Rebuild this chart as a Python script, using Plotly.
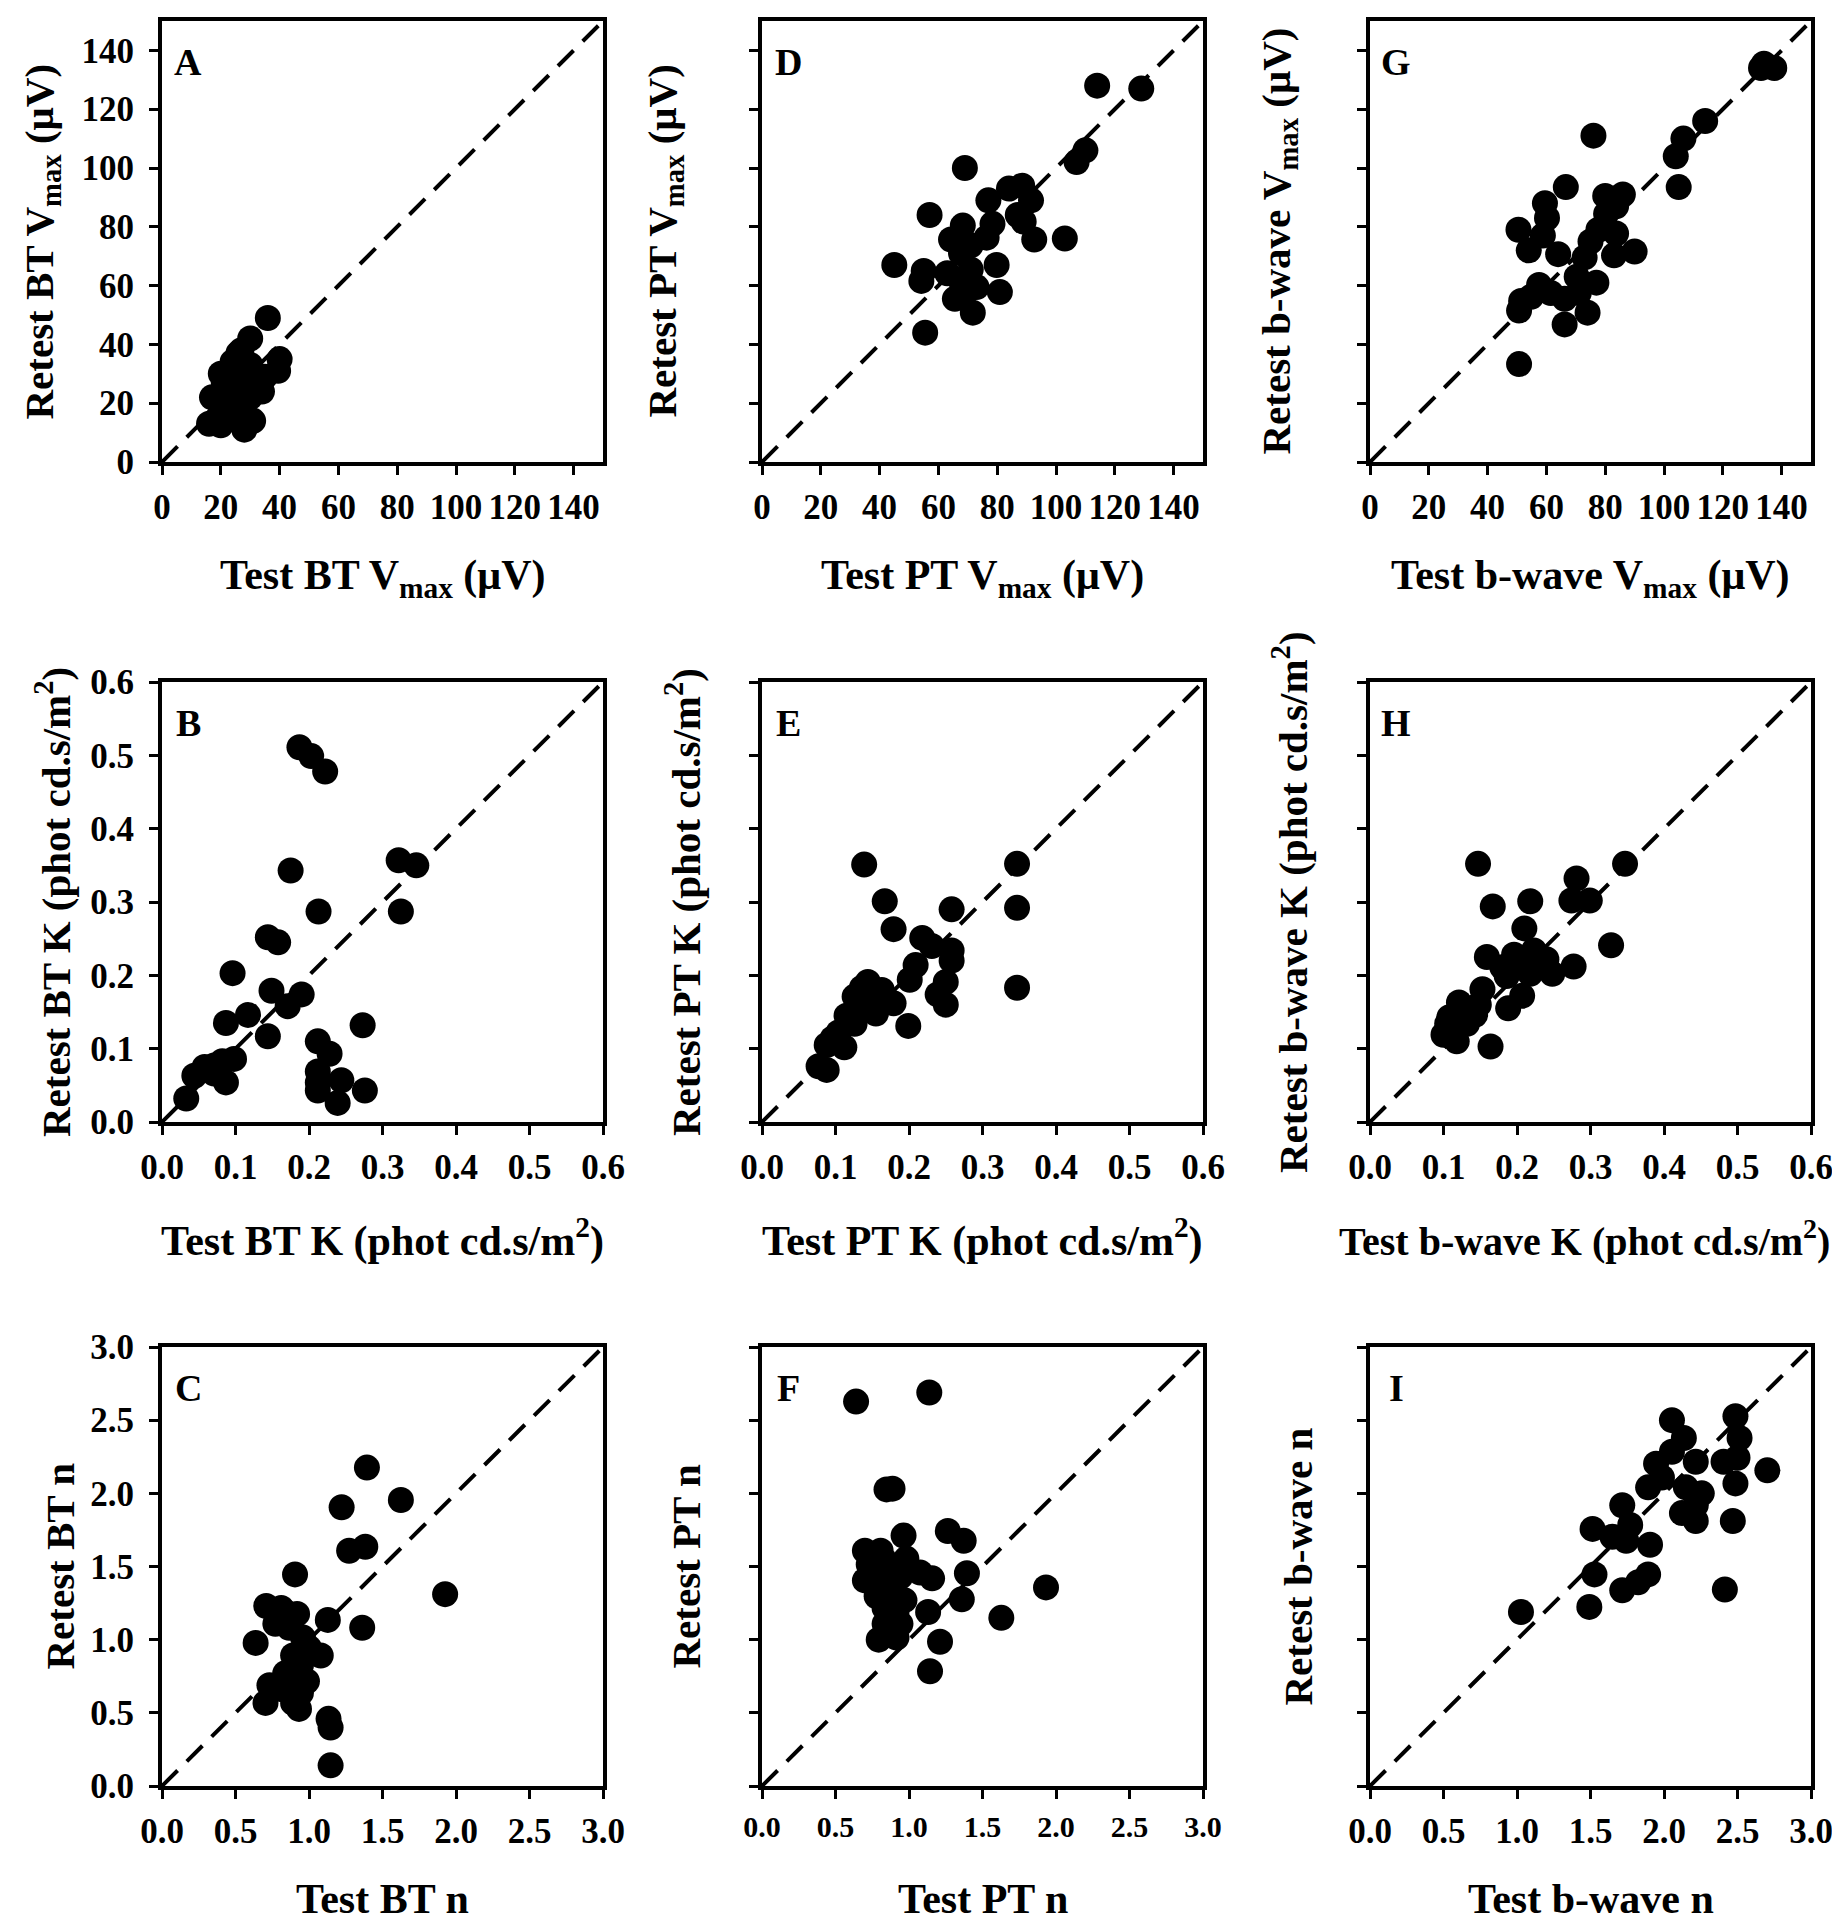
import plotly.graph_objects as go

# ---------------- data ----------------
A_test = [36, 30, 40, 39.5, 28, 31, 16, 20, 17, 20, 22, 24, 25, 26, 27, 28, 29, 30, 32, 33, 34, 25, 23, 21, 26, 28, 30, 22, 35, 19, 24, 27]
A_retest = [49, 42, 35, 31, 11, 14, 13, 12.5, 22, 30, 25, 28, 32, 22, 35, 30, 26, 33, 28, 25, 24, 18, 20, 27, 37, 20, 22, 17, 29, 15, 34, 38]

B_test = [0.187, 0.203, 0.222, 0.175, 0.322, 0.346, 0.325, 0.213, 0.144, 0.158, 0.096, 0.149, 0.19, 0.171, 0.117, 0.087, 0.144,
          0.273, 0.212, 0.228, 0.212, 0.212, 0.212, 0.244, 0.239, 0.276, 0.098, 0.082, 0.071, 0.058, 0.087, 0.044, 0.033, 0.071]
B_retest = [0.511, 0.499, 0.478, 0.343, 0.357, 0.35, 0.287, 0.287, 0.252, 0.245, 0.203, 0.179, 0.174, 0.158, 0.146, 0.135, 0.117,
            0.132, 0.11, 0.093, 0.069, 0.054, 0.043, 0.057, 0.026, 0.043, 0.086, 0.083, 0.077, 0.075, 0.054, 0.063, 0.032, 0.066]

C_test = [1.394, 1.625, 1.222, 1.273, 1.383, 0.905, 1.926, 1.128, 1.362, 0.637, 0.709, 0.811, 0.919, 0.771, 0.865, 0.959, 0.999,
          1.08, 0.892, 0.945, 0.838, 0.986, 0.731, 0.811, 0.945, 0.704, 0.892, 0.932, 1.133, 1.147, 1.147, 0.838]
C_retest = [2.176, 1.954, 1.905, 1.608, 1.635, 1.446, 1.311, 1.135, 1.081, 0.978, 1.23, 1.216, 1.176, 1.108, 1.081, 1.014, 0.946,
            0.892, 0.892, 0.824, 0.77, 0.716, 0.689, 0.662, 0.635, 0.568, 0.568, 0.527, 0.459, 0.4, 0.141, 1.189]

D_test = [114, 129, 110, 107, 69, 84, 88.5, 91.5, 77, 87, 89, 57, 92.6, 103, 78.4, 68.3, 76.4, 64.3, 71, 67.7, 45, 55, 54.2,
          79.8, 80.9, 63, 67.7, 73, 65.6, 69, 71.7, 55.5, 71]
D_retest = [128, 127, 106, 102, 100, 93, 94, 89, 89, 84, 81.7, 84, 75.7, 76, 81, 80.4, 76.3, 75.7, 73.7, 71, 67, 65, 61.6,
            67, 57.8, 64.2, 61.6, 59.5, 55.5, 57.5, 50.8, 44, 65.5]

E_test = [0.139, 0.347, 0.347, 0.347, 0.258, 0.167, 0.179, 0.218, 0.231, 0.258, 0.258, 0.209, 0.201, 0.25, 0.239, 0.25, 0.199,
          0.144, 0.136, 0.163, 0.179, 0.169, 0.147, 0.136, 0.155, 0.115, 0.126, 0.104, 0.096, 0.112, 0.088, 0.077, 0.088, 0.126]
E_retest = [0.351, 0.352, 0.292, 0.183, 0.29, 0.301, 0.263, 0.251, 0.24, 0.234, 0.22, 0.214, 0.194, 0.191, 0.174, 0.16, 0.131,
            0.191, 0.183, 0.18, 0.162, 0.168, 0.168, 0.157, 0.148, 0.145, 0.134, 0.122, 0.114, 0.102, 0.105, 0.076, 0.071, 0.171]

F_test = [0.64, 1.138, 0.888, 0.847, 0.963, 1.264, 1.372, 1.394, 1.932, 1.628, 1.359, 1.13, 1.211, 1.143, 0.7, 0.807, 0.726,
          0.834, 0.982, 0.7, 0.834, 0.942, 1.076, 1.157, 0.78, 0.888, 0.969, 0.834, 0.915, 0.834, 0.942, 0.794, 0.915, 0.861]
F_retest = [2.627, 2.689, 2.032, 2.027, 1.711, 1.743, 1.676, 1.454, 1.357, 1.149, 1.276, 1.189, 0.986, 0.784, 1.608, 1.608, 1.514,
            1.541, 1.554, 1.405, 1.432, 1.432, 1.459, 1.419, 1.297, 1.324, 1.27, 1.216, 1.189, 1.108, 1.108, 1.0, 1.014, 1.054]

G_test = [133, 137.5, 134, 114, 106.6, 104, 105, 76, 66.6, 80, 86, 83.7, 80.3, 59.5, 60.2, 50.5, 58.8, 77.7, 83.7, 75, 54, 64,
          83, 90, 73, 70.3, 77, 57.5, 54.8, 51.4, 66.2, 61.5, 71, 50.7, 74, 66.2, 50.7]
G_retest = [134, 134, 135.5, 116, 110, 104, 93.5, 111, 93.5, 90.5, 91, 87, 84.4, 88, 83, 79, 77, 79, 77.7, 75, 72, 70.7,
            70.3, 71.6, 69.6, 63, 61, 60.2, 56.2, 54.8, 55.5, 57.5, 57.5, 51.5, 50.8, 46.8, 33.3]

H_test = [0.147, 0.347, 0.281, 0.218, 0.167, 0.274, 0.299, 0.21, 0.328, 0.159, 0.277, 0.223, 0.24, 0.196, 0.207, 0.18, 0.218,
          0.248, 0.186, 0.153, 0.207, 0.148, 0.188, 0.121, 0.143, 0.108, 0.132, 0.1, 0.118, 0.164, 0.105]
H_retest = [0.352, 0.352, 0.332, 0.301, 0.294, 0.302, 0.302, 0.264, 0.241, 0.225, 0.212, 0.234, 0.222, 0.228, 0.217, 0.211, 0.202,
            0.202, 0.199, 0.181, 0.172, 0.16, 0.155, 0.163, 0.146, 0.143, 0.134, 0.119, 0.11, 0.103, 0.134]

I_test = [1.027, 1.492, 1.527, 1.514, 1.716, 1.649, 1.743, 1.77, 1.905, 1.892, 1.824, 1.716, 2.054, 2.135, 2.054, 1.946, 1.892,
          1.986, 2.216, 2.149, 2.122, 2.216, 2.216, 2.486, 2.514, 2.5, 2.405, 2.703, 2.486, 2.468, 2.414, 2.257]
I_retest = [1.189, 1.224, 1.446, 1.757, 1.919, 1.703, 1.676, 1.784, 1.649, 1.446, 1.392, 1.338, 2.5, 2.378, 2.284, 2.203, 2.041,
            2.108, 2.216, 2.041, 1.865, 1.919, 1.811, 2.527, 2.378, 2.243, 2.216, 2.157, 2.068, 1.811, 1.343, 2.0]

panel_letters = ["A", "B", "C", "D", "E", "F", "G", "H", "I"]
x_titles = [
    "Test BT V<sub>max</sub> (μV)", "Test BT K (phot cd.s/m<sup>2</sup>)", "Test BT n",
    "Test PT V<sub>max</sub> (μV)", "Test PT K (phot cd.s/m<sup>2</sup>)", "Test PT n",
    "Test b-wave V<sub>max</sub> (μV)", "Test b-wave K (phot cd.s/m<sup>2</sup>)", "Test b-wave n",
]
y_titles = [
    "Retest BT V<sub>max</sub> (μV)", "Retest BT K (phot cd.s/m<sup>2</sup>)", "Retest BT n",
    "Retest PT V<sub>max</sub> (μV)", "Retest PT K (phot cd.s/m<sup>2</sup>)", "Retest PT n",
    "Retest b-wave V<sub>max</sub> (μV)", "Retest b-wave K (phot cd.s/m<sup>2</sup>)", "Retest b-wave n",
]
axis_max = [150, 0.6, 3.0]
tick_step = [20, 0.1, 0.5]
tick_last = [140, 0.6, 3.0]
tick_fmt = ["d", ".1f", ".1f"]

series = [
    (A_test, A_retest), (B_test, B_retest), (C_test, C_retest),
    (D_test, D_retest), (E_test, E_retest), (F_test, F_retest),
    (G_test, G_retest), (H_test, H_retest), (I_test, I_retest),
]

# ---------------- layout geometry (pixels) ----------------
W, H = 1840, 1920
col_px = [(154, 595), (754, 1195), (1362, 1803)]
row_px = [(13, 454), (674, 1114), (1339, 1778)]
xtitle_y_px = [570, 1230, 1891]
ytitle_x_px = [[34, 45, 51], [657, 675, 677], [1271, 1282, 1289]]

FONT = "Liberation Serif"
fig = go.Figure()

for idx in range(9):
    col, row = idx // 3, idx % 3
    n = idx + 1
    xa = "x" if n == 1 else f"x{n}"
    ya = "y" if n == 1 else f"y{n}"
    xl, xr = col_px[col]
    yt, yb = row_px[row]
    xd = [xl / W, xr / W]
    yd = [1 - yb / H, 1 - yt / H]
    m = axis_max[row]
    tvals = []
    v = 0.0
    while v <= tick_last[row] + 1e-9:
        tvals.append(round(v, 4))
        v += tick_step[row]

    # identity line
    fig.add_trace(go.Scatter(x=[0, m], y=[0, m], mode="lines", xaxis=xa, yaxis=ya,
                             line=dict(color="black", width=4, dash="22px,13px"),
                             showlegend=False, hoverinfo="skip"))
    tx, ty = series[idx]
    fig.add_trace(go.Scatter(x=tx, y=ty, mode="markers", xaxis=xa, yaxis=ya,
                             marker=dict(size=26, color="black", line=dict(width=0)),
                             showlegend=False))

    tick_size = 30 if idx == 5 else 35
    axcommon = dict(showgrid=False, zeroline=False, showline=True, linecolor="black", linewidth=4,
                    mirror=True, ticks="outside", ticklen=9, tickwidth=3, tickcolor="black",
                    tickvals=tvals, tickformat=tick_fmt[row], automargin=False,
                    tickfont=dict(family=FONT, size=tick_size, color="black", weight="bold"),
                    range=[0, m], fixedrange=True)
    fig.layout[f"xaxis{'' if n == 1 else n}"] = dict(domain=xd, anchor=ya, ticklabelstandoff=2, **axcommon)
    fig.layout[f"yaxis{'' if n == 1 else n}"] = dict(domain=yd, anchor=xa, showticklabels=(col == 0),
                                                   ticklabelstandoff=8, **axcommon)

    # panel letter
    fig.add_annotation(text=panel_letters[idx], xref="paper", yref="paper",
                       x=(xl + 26) / W, y=1 - (yt + 41) / H, xanchor="center", yanchor="middle",
                       showarrow=False, font=dict(family=FONT, size=38, color="black", weight="bold"))
    # x title
    xt_size = 40 if idx == 7 else 42
    xt_center = (xl + xr) / 2 - (6 if idx == 7 else 0)
    fig.add_annotation(text=x_titles[idx], xref="paper", yref="paper",
                       x=xt_center / W, y=1 - xtitle_y_px[row] / H, xanchor="center", yanchor="middle",
                       showarrow=False, font=dict(family=FONT, size=xt_size, color="black", weight="bold"))
    # y title
    fig.add_annotation(text=y_titles[idx], xref="paper", yref="paper", textangle=-90,
                       x=ytitle_x_px[col][row] / W, y=1 - (yt + yb) / 2 / H, xanchor="center", yanchor="middle",
                       showarrow=False, font=dict(family=FONT, size=41, color="black", weight="bold"))

fig.update_layout(width=W, height=H, margin=dict(l=0, r=0, t=0, b=0, pad=0, autoexpand=False),
                  paper_bgcolor="white", plot_bgcolor="white", showlegend=False)

fig.write_html("out.html")
